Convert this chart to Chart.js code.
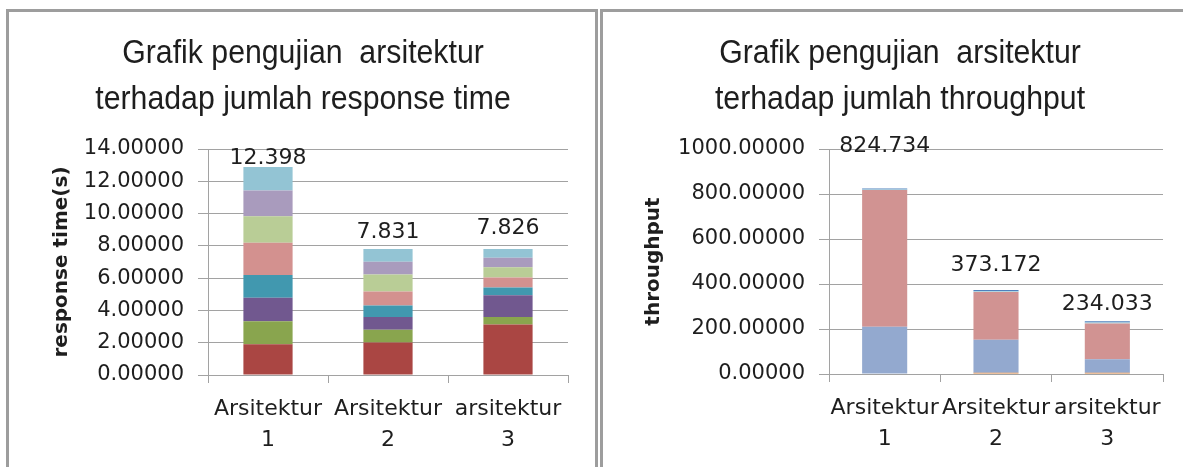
<!DOCTYPE html>
<html>
<head>
<meta charset="utf-8">
<script src="https://cdn.jsdelivr.net/npm/chart.js@4/dist/chart.umd.min.js"></script>
<style>
    html, body { margin: 0; padding: 0; background: #fff; width: 1183px; height: 467px; overflow: hidden; }
    .panel { position: absolute; top: 9px; height: 480px; border: 3px solid #9d9d9d; box-sizing: border-box; background: #fff; }
    #leftPanel { left: 6px; width: 592px; }
    #rightPanel { left: 600px; width: 620px; }
    canvas { position: absolute; top: 0; left: 0; }
</style>
</head>
<body>
<div class="panel" id="leftPanel"><canvas id="chartResponse" width="586" height="455"></canvas></div>
<div class="panel" id="rightPanel"><canvas id="chartThroughput" width="580" height="455"></canvas></div>
<script>
(function () {
    'use strict';

    const categories = [['Arsitektur', '1'], ['Arsitektur', '2'], ['arsitektur', '3']];

    // response time, stacked from bottom to top
    const rtLayer1 = [1.90, 2.01, 3.13];
    const rtLayer2 = [1.43, 0.79, 0.46];
    const rtLayer3 = [1.45, 0.79, 1.35];
    const rtLayer4 = [1.41, 0.72, 0.48];
    const rtLayer5 = [2.01, 0.87, 0.62];
    const rtLayer6 = [1.64, 1.04, 0.64];
    const rtLayer7 = [1.59, 0.79, 0.58];
    const rtLayer8 = [1.45, 0.79, 0.54];
    const rtTotals = ['12.398', '7.831', '7.826'];
    const rtTicks = [0, 2, 4, 6, 8, 10, 12, 14];

    // throughput, stacked from bottom to top
    const tpLayer1 = [0, 6, 6];
    const tpLayer2 = [210, 146, 60];
    const tpLayer3 = [608, 212, 159];
    const tpLayer4 = [2, 4, 4];
    const tpLayer5 = [5, 5, 5];
    const tpTotals = ['824.734', '373.172', '234.033'];
    const tpTicks = [0, 200, 400, 600, 800, 1000];

    const GRID = '#a2a2a2';
    const TEXT = '#1e1e1e';
    const FONT = 'DejaVu Sans';

    const titlePlugin = {
        id: 'twoLineTitle',
        afterDraw: function (chart, args, opts) {
            const ctx = chart.ctx;
            ctx.save();
            ctx.fillStyle = TEXT;
            ctx.font = opts.size + 'px "Liberation Sans Narrow", "Liberation Sans", sans-serif';
            ctx.textAlign = 'center';
            ctx.textBaseline = 'alphabetic';
            opts.lines.forEach(function (line, i) {
                ctx.save();
                ctx.translate(opts.x, opts.y + i * opts.gap);
                ctx.scale(opts.scaleX, 1);
                ctx.fillText(line, 0, 0);
                ctx.restore();
            });
            ctx.restore();
        }
    };

    const totalsPlugin = {
        id: 'stackTotals',
        afterDatasetsDraw: function (chart, args, opts) {
            const ctx = chart.ctx;
            const yScale = chart.scales.y;
            const lastMeta = chart.getDatasetMeta(chart.data.datasets.length - 1);
            ctx.save();
            ctx.fillStyle = TEXT;
            ctx.font = opts.size + 'px "' + FONT + '"';
            ctx.textAlign = 'center';
            ctx.textBaseline = 'alphabetic';
            opts.labels.forEach(function (text, i) {
                let sum = 0;
                chart.data.datasets.forEach(function (ds) { sum += ds.data[i]; });
                const x = lastMeta.data[i].x;
                const y = yScale.getPixelForValue(sum) - opts.offsets[i];
                ctx.fillText(text, x, y);
            });
            ctx.restore();
        }
    };

    function makeChart(id, layers, colors, setup) {
        const canvas = document.getElementById(id);
        const datasets = layers.map(function (values, i) {
            return {
                data: values,
                backgroundColor: colors[i],
                borderWidth: 0,
                barPercentage: setup.barPercentage,
                categoryPercentage: 1
            };
        });

        return new Chart(canvas, {
            type: 'bar',
            data: { labels: categories, datasets: datasets },
            options: {
                responsive: false,
                animation: false,
                devicePixelRatio: 1,
                layout: {
                    padding: { left: setup.padLeft, right: setup.padRight, top: setup.padTop, bottom: 0 }
                },
                plugins: {
                    legend: { display: false },
                    tooltip: { enabled: false },
                    twoLineTitle: {
                        lines: setup.title,
                        x: setup.titleX,
                        y: 51,
                        gap: 46,
                        size: 34,
                        scaleX: 0.89
                    },
                    stackTotals: { labels: setup.totals, offsets: setup.totalOffsets, size: 22 }
                },
                scales: {
                    x: {
                        stacked: true,
                        afterFit: function (scale) { scale.height = setup.xHeight; },
                        grid: { display: true, drawOnChartArea: false, color: GRID, tickLength: 8, offset: true },
                        border: { display: true, color: GRID },
                        ticks: { color: TEXT, padding: 11, font: { family: FONT, size: 22, lineHeight: 1.4 }, maxRotation: 0, autoSkip: false }
                    },
                    y: {
                        stacked: true,
                        min: 0,
                        max: setup.ticks[setup.ticks.length - 1],
                        afterFit: function (scale) { scale.width = setup.yWidth; },
                        afterBuildTicks: function (scale) {
                            scale.ticks = setup.ticks.map(function (v) { return { value: v }; });
                        },
                        grid: { color: GRID, tickLength: 10 },
                        border: { display: true, color: GRID },
                        ticks: {
                            color: TEXT,
                            padding: 14,
                            font: { family: FONT, size: 21 },
                            callback: function (value) { return Number(value).toFixed(5); }
                        },
                        title: {
                            display: true,
                            text: setup.yTitle,
                            color: TEXT,
                            font: { family: FONT, size: 20, weight: 'bold' }
                        }
                    }
                }
            },
            plugins: [titlePlugin, totalsPlugin]
        });
    }

    makeChart('chartResponse',
        [rtLayer1, rtLayer2, rtLayer3, rtLayer4, rtLayer5, rtLayer6, rtLayer7, rtLayer8],
        ['#aa4643', '#89a54e', '#71588f', '#4198af', '#d3918f', '#b9cd96', '#a99bbd', '#93c4d4'],
        {
            title: ['Grafik pengujian  arsitektur', 'terhadap jumlah response time'],
            titleX: 294,
            totals: rtTotals, totalOffsets: [3, 11, 15],
            ticks: rtTicks,
            yTitle: 'response time(s)',
            barPercentage: 0.41,
            padLeft: 37, padRight: 27, padTop: 137, yWidth: 162, xHeight: 92
        });

    makeChart('chartThroughput',
        [tpLayer1, tpLayer2, tpLayer3, tpLayer4, tpLayer5],
        ['#db843d', '#93a9cf', '#d19392', '#a8d0dc', '#4f81bd'],
        {
            title: ['Grafik pengujian  arsitektur', 'terhadap jumlah throughput'],
            titleX: 297,
            totals: tpTotals, totalOffsets: [36, 19, 11],
            ticks: tpTicks,
            yTitle: 'throughput',
            barPercentage: 0.405,
            padLeft: 35, padRight: 20, padTop: 137, yWidth: 191, xHeight: 93
        });
})();
</script>
</body>
</html>
